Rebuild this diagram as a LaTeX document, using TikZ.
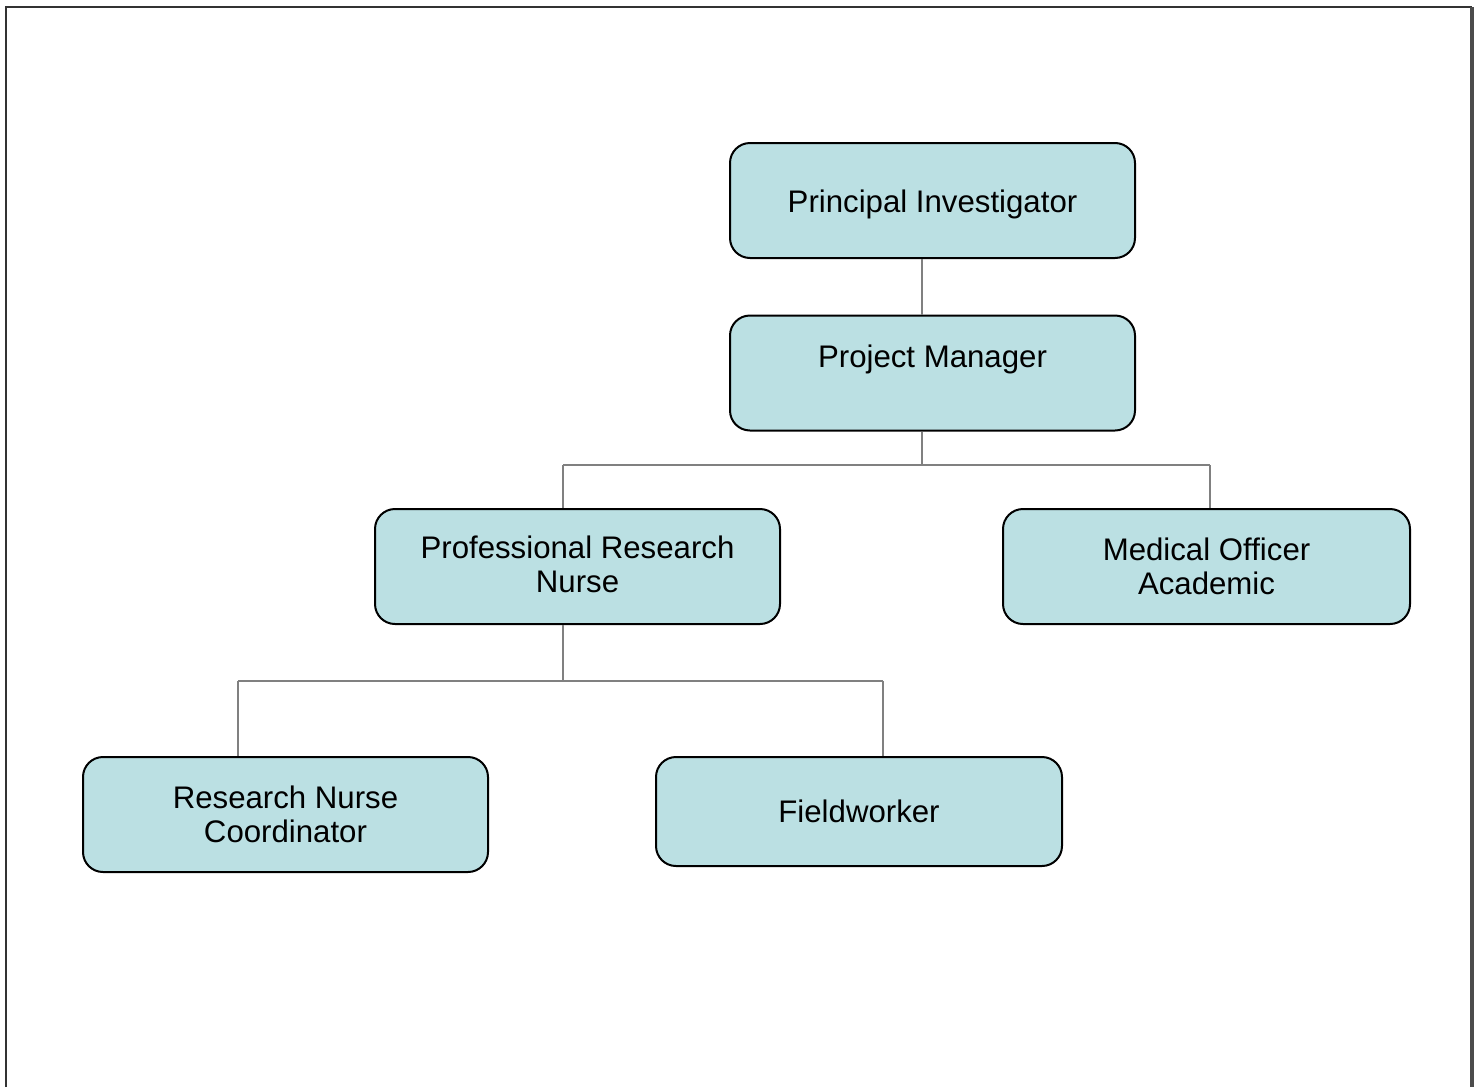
\documentclass[tikz,border=0pt]{standalone}
\usepackage{fontspec}
\setmainfont{Liberation Sans}
\definecolor{boxfill}{RGB}{187,224,227}
\definecolor{connc}{RGB}{128,128,128}
\tikzset{
  orgbox/.style={draw=black, line width=2pt, fill=boxfill, rounded corners=20pt,
    minimum width=405pt, minimum height=115pt, align=center, inner sep=0pt,
    font=\fontsize{31.2}{34}\selectfont},
  boxtext/.style={align=center, inner sep=0pt, font=\fontsize{31.2}{34}\selectfont},
  conn/.style={draw=connc, line width=2pt},
}
\begin{document}
\begin{tikzpicture}[x=1pt,y=-1pt]
\useasboundingbox (0,0) rectangle (1479,1087);
% frame
\draw[line width=2pt, black!80] (6,1087) -- (6,7) -- (1472,7);
\draw[line width=3.5pt, black!70] (1472,7) -- (1472,1087);
% boxes
\node[orgbox] (pi) at (932.5,200.5) {};
\node[boxtext] (pitext) at ([yshift=-4pt]pi.center) {Principal Investigator};
\node[orgbox] (pm) at (932.5,373) {Project Manager\\\mbox{}};
\node[orgbox] (prn) at (577.5,566.5) {};
\node[boxtext] (prntext) at ([yshift=2pt]prn.center) {Professional Research\\Nurse};
\node[orgbox, minimum width=407pt] (moa) at (1206.5,566.5) {Medical Officer\\Academic};
\node[orgbox] (rnc) at (285.5,814.5) {Research Nurse\\Coordinator};
\node[orgbox, minimum width=406pt, minimum height=109pt] (fw) at (859,811.5) {Fieldworker};
% junctions
\coordinate (j1) at (922,465);
\coordinate (j1l) at (563,465);
\coordinate (j1r) at (1210,465);
\coordinate (j2) at (563,681);
\coordinate (j2l) at (238,681);
\coordinate (j2r) at (883,681);
% connectors
\draw[conn] (pi.south -| j1) -- (pm.north -| j1);
\draw[conn] (pm.south -| j1) -- (j1);
\draw[conn] (j1l) -- (j1r);
\draw[conn] (j1l) -- (j1l |- prn.north);
\draw[conn] (j1r) -- (j1r |- moa.north);
\draw[conn] (prn.south -| j2) -- (j2);
\draw[conn] (j2l) -- (j2r);
\draw[conn] (j2l) -- (j2l |- rnc.north);
\draw[conn] (j2r) -- (j2r |- fw.north);
\end{tikzpicture}
\end{document}
